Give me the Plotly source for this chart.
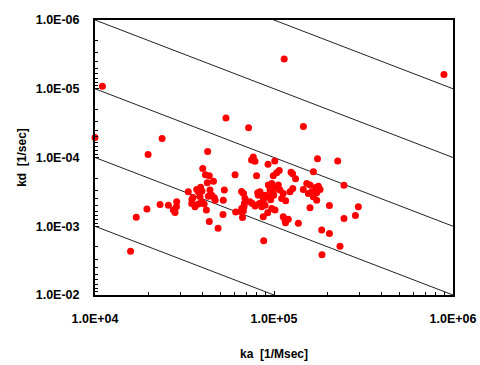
import plotly.graph_objects as go

# association rate ka [1/Msec] and dissociation rate kd [1/sec] per measurement
ka = [1.0e4, 1.10e4, 1.14e5, 8.9e5, 5.39e4, 7.21e4, 1.46e5, 2.37e4, 1.98e4, 4.26e4,
      7.66e4, 7.49e4, 7.83e4, 9.26e4, 1.01e5, 1.75e5, 2.27e5, 4.00e4, 4.14e4, 4.35e4,
      4.24e4, 4.59e4, 6.06e4, 7.99e4, 9.91e4, 1.035e5, 1.07e5, 1.245e5, 1.27e5, 1.32e5,
      1.66e5, 2.46e5, 3.32e4, 3.53e4, 3.70e4, 3.89e4, 3.78e4, 3.96e4, 4.39e4, 4.49e4,
      4.64e4, 4.69e4, 5.28e4, 5.21e4, 3.47e4, 3.62e4, 3.78e4, 3.95e4, 4.07e4, 4.19e4,
      2.86e4, 2.57e4, 2.74e4, 2.80e4, 2.31e4, 1.95e4, 1.70e4, 1.58e4, 4.35e4, 4.87e4,
      5.19e4, 6.59e4, 6.76e4, 6.89e4, 6.83e4, 6.60e4, 6.56e4, 6.74e4, 6.67e4, 6.11e4,
      7.34e4, 7.57e4, 7.84e4, 8.11e4, 8.17e4, 8.35e4, 8.28e4, 8.71e4, 9.30e4, 9.71e4,
      1.013e5, 9.50e4, 9.91e4, 1.08e5, 1.057e5, 8.91e4, 9.30e4, 9.62e4, 1.126e5, 1.104e5,
      1.162e5, 1.229e5, 1.273e5, 8.54e4, 8.91e4, 9.22e4, 9.71e4, 1.013e5, 8.71e4, 1.126e5,
      1.152e5, 1.202e5, 1.368e5, 1.458e5, 1.524e5, 1.556e5, 1.624e5, 1.657e5, 1.732e5, 1.769e5,
      1.71e5, 1.807e5, 1.589e5, 1.732e5, 2.04e5, 2.96e5, 2.85e5, 2.46e5, 1.589e5, 1.847e5,
      2.04e5, 1.854e5, 2.337e5, 8.76e4, 3.48e4, 3.86e4, 4.30e4, 8.66e4, 9.96e4, 9.58e4,
      2.85e4, 6.80e4, 1.159e5]
kd = [5.1e-5, 9.2e-6, 3.7e-6, 6.2e-6, 2.66e-5, 3.69e-5, 3.55e-5, 5.3e-5, 9.05e-5, 8.2e-5,
      9.8e-5, 1.09e-4, 1.13e-4, 1.25e-4, 1.12e-4, 1.04e-4, 1.12e-4, 1.45e-4, 1.78e-4, 1.84e-4,
      2.32e-4, 2.21e-4, 1.78e-4, 1.85e-4, 1.84e-4, 1.66e-4, 1.55e-4, 1.64e-4, 1.72e-4, 2.03e-4,
      1.61e-4, 2.54e-4, 3.16e-4, 3.81e-4, 2.91e-4, 2.70e-4, 3.16e-4, 3.08e-4, 2.98e-4, 3.53e-4,
      3.86e-4, 4.17e-4, 2.98e-4, 4.17e-4, 4.65e-4, 5.21e-4, 4.76e-4, 4.41e-4, 4.76e-4, 5.82e-4,
      4.41e-4, 4.93e-4, 5.82e-4, 6.33e-4, 4.81e-4, 5.59e-4, 7.40e-4, 2.31e-3, 8.55e-4, 1.07e-3,
      6.72e-4, 3.13e-4, 3.35e-4, 3.94e-4, 4.65e-4, 5.50e-4, 6.16e-4, 6.02e-4, 7.43e-4, 6.22e-4,
      4.41e-4, 4.65e-4, 5.09e-4, 3.26e-4, 3.53e-4, 3.16e-4, 4.65e-4, 4.17e-4, 2.52e-4, 2.38e-4,
      2.67e-4, 2.98e-4, 3.16e-4, 2.98e-4, 2.52e-4, 3.53e-4, 3.73e-4, 3.53e-4, 3.33e-4, 3.94e-4,
      4.27e-4, 3.16e-4, 2.82e-4, 5.21e-4, 4.93e-4, 6.37e-4, 5.50e-4, 5.82e-4, 7.28e-4, 7.28e-4,
      8.13e-4, 7.94e-4, 9.07e-4, 2.91e-4, 2.38e-4, 3.33e-4, 3.16e-4, 3.73e-4, 3.26e-4, 2.61e-4,
      2.73e-4, 2.91e-4, 2.52e-4, 4.17e-4, 4.98e-4, 5.21e-4, 6.95e-4, 7.73e-4, 5.39e-4, 1.136e-3,
      1.27e-3, 2.59e-3, 1.96e-3, 1.62e-3, 4.07e-4, 3.69e-4, 3.65e-4, 3.56e-4, 3.53e-4, 4.11e-4,
      5.21e-4, 5.21e-4, 8.9e-4]

# iso-affinity lines KD = kd / ka
KD_values = [1e-11, 1e-10, 1e-9, 1e-8, 1e-7]
ka_span = [1e4, 1e6]

x_tickvals = [1e4, 1e5, 1e6]
x_ticktext = ["1.0E+04", "1.0E+05", "1.0E+06"]
y_tickvals = [1e-6, 1e-5, 1e-4, 1e-3, 1e-2]
y_ticktext = ["1.0E-06", "1.0E-05", "1.0E-04", "1.0E-03", "1.0E-02"]

fig = go.Figure()
for KD in KD_values:
    fig.add_trace(go.Scatter(
        x=ka_span, y=[KD * k for k in ka_span], mode="lines",
        line=dict(color="#222222", width=1), hoverinfo="skip", showlegend=False))

fig.add_trace(go.Scatter(
    x=ka, y=kd, mode="markers", cliponaxis=False,
    marker=dict(color="#ff0000", size=7, line=dict(width=0)), showlegend=False))

font_family = "Liberation Sans, Arial, sans-serif"
fig.update_layout(
    width=480, height=365,
    margin=dict(l=95, r=27, t=20, b=70),
    paper_bgcolor="white", plot_bgcolor="white",
    font=dict(family=font_family, size=12, color="black", weight="bold"),
    showlegend=False,
)
fig.update_xaxes(
    type="log", range=[4, 6], automargin=False,
    tickvals=x_tickvals, ticktext=x_ticktext,
    ticks="inside", ticklen=4, tickcolor="black",
    minor=dict(ticks="inside", ticklen=3, dtick="D1", tickcolor="black", showgrid=False),
    showgrid=False, zeroline=False,
    showline=True, mirror=True, linecolor="black", linewidth=2,
    ticklabelstandoff=11,
    tickfont=dict(size=12.5, family=font_family, weight="bold"),
    title=dict(text="ka  [1/Msec]", standoff=25,
               font=dict(size=12, family=font_family, weight="bold")),
)
fig.update_yaxes(
    type="log", range=[-2, -6], automargin=False,
    tickvals=y_tickvals, ticktext=y_ticktext,
    ticks="inside", ticklen=4, tickcolor="black",
    minor=dict(ticks="inside", ticklen=3, dtick="D1", tickcolor="black", showgrid=False),
    showgrid=False, zeroline=False,
    showline=True, mirror=True, linecolor="black", linewidth=2,
    ticklabelstandoff=11,
    tickfont=dict(size=12.5, family=font_family, weight="bold"),
    title=dict(text="kd  [1/sec]", standoff=7,
               font=dict(size=12, family=font_family, weight="bold")),
)

fig.write_html("out.html", config={"displayModeBar": False},
               post_script="document.body.style.margin='0';")
